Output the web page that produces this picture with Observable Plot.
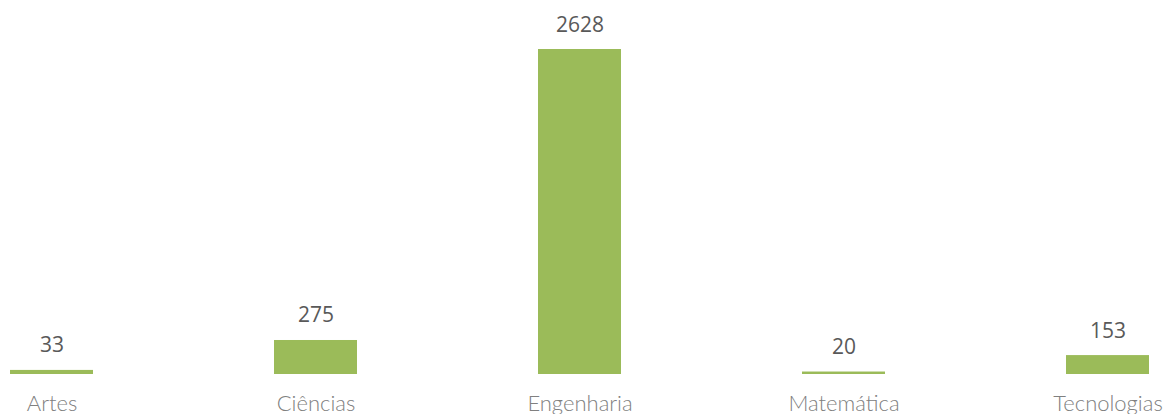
<!DOCTYPE html>
<html>
<head>
<meta charset="utf-8">
<script src="https://cdn.jsdelivr.net/npm/d3@7"></script>
<script src="https://cdn.jsdelivr.net/npm/@observablehq/plot@0.6"></script>
<style>
  html, body { margin: 0; padding: 0; background: #fff; }
  #chart svg { display: block; }
</style>
</head>
<body>
<div id="chart"></div>
<script>
const categories = ["Artes", "Ciências", "Engenharia", "Matemática", "Tecnologias"];
const values = [33, 275, 2628, 20, 153];

const data = categories.map((c, i) => ({category: c, value: values[i]}));

const chart = Plot.plot({
  width: 1166,
  height: 414,
  marginLeft: 9,
  marginRight: 17,
  marginTop: 49,
  marginBottom: 40,
  style: {background: "#ffffff", overflow: "visible"},
  x: {domain: categories, paddingInner: 0.686, paddingOuter: 0, axis: null},
  y: {domain: [0, 2628], axis: null},
  marks: [
    Plot.barY(data, {x: "category", y: "value", fill: "#9BBB59"}),
    Plot.text(data, {
      x: "category", y: "value", text: d => String(d.value),
      lineAnchor: "bottom", dy: -18,
      fontSize: 21, fontFamily: "Open Sans", fill: "#595959"
    }),
    Plot.text(data, {
      x: "category", y: 0, text: "category",
      lineAnchor: "bottom", dy: 36,
      fontSize: 22, fontFamily: "Lato", fontWeight: 300, fill: "#808080"
    })
  ]
});
document.getElementById("chart").appendChild(chart);
</script>
</body>
</html>
